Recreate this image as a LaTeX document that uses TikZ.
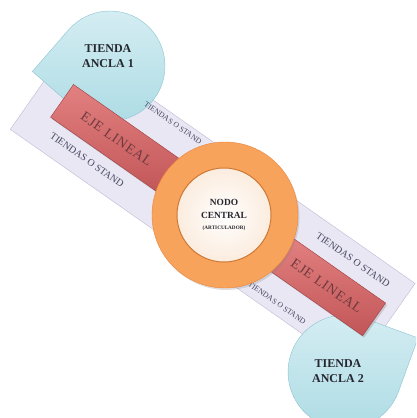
\documentclass[tikz,border=0pt]{standalone}
\usepackage{fontspec}
\setmainfont{Liberation Serif}
\definecolor{BandFill}  {RGB}{233,231,243}
\definecolor{BandLine}  {RGB}{190,185,214}
\definecolor{AxisTop}   {RGB}{226,128,128}
\definecolor{AxisBot}   {RGB}{194,86,88}
\definecolor{AxisLine}  {RGB}{156,62,64}
\definecolor{AxisText}  {RGB}{112,58,62}
\definecolor{RingFill}  {RGB}{247,163,92}
\definecolor{RingLine}  {RGB}{234,132,58}
\definecolor{CoreFill}  {RGB}{251,236,222}
\definecolor{CoreLine}  {RGB}{205,120,52}
\definecolor{AnchorTop} {RGB}{214,238,243}
\definecolor{AnchorBot} {RGB}{172,219,228}
\definecolor{AnchorLine}{RGB}{140,196,208}
\definecolor{InkDark}   {RGB}{38,38,46}
\definecolor{InkStand}  {RGB}{72,72,98}
\usetikzlibrary{calc,shadows}

\begin{document}
\begin{tikzpicture}[x=1pt,y=-1pt,
    band/.style={draw=BandLine,fill=BandFill,rotate=-35,
      minimum width=420pt,minimum height=106pt,inner sep=0pt},
    axisbar/.style={draw=AxisLine,top color=AxisTop,bottom color=AxisBot,
      rotate=-35,minimum height=40pt,inner sep=0pt,text=AxisText,
      drop shadow={opacity=0.3,shadow xshift=1.5pt,shadow yshift=-2pt},
      font=\fontsize{14}{14}\selectfont\addfontfeature{LetterSpace=6}},
    anchorshop/.style={draw=AnchorLine,top color=AnchorTop,bottom color=AnchorBot},
    anchortxt/.style={font=\bfseries\fontsize{12}{15}\selectfont,
      text=InkDark,align=center},
    standlbl/.style={rotate=-35,text=InkStand,inner sep=0pt}]
  \useasboundingbox (0,0) rectangle (416,418);
  \clip (0,0) rectangle (416,418);
  \node[band] (band) at (212.7,206.4) {};
  \coordinate (a1) at (110,66);
  \coordinate (a2) at (345,372);
  \path[anchorshop] ($(a1)+(176:77.8)$) -- ($(a1)+(221:55)$)
    arc[start angle=221,end angle=491,radius=55] -- cycle;
  \path[anchorshop] ($(a2)+(-25:80.6)$) -- ($(a2)+(20:57)$)
    arc[start angle=20,end angle=290,radius=57] -- cycle;
  \node[axisbar,minimum width=133pt] (eje1) at (116.5,139) {EJE LINEAL};
  \node[axisbar,minimum width=116pt] (eje2) at (326.6,286.1) {EJE LINEAL};
  \foreach \px/\py/\fs/\nm in {173/123/7.8/stand1, 87/160/10/stand2,
      353/260/10/stand3, 277/303/7.8/stand4}
    \node[standlbl,font=\fontsize{\fs}{\fs}\selectfont] (\nm) at (\px,\py)
      {TIENDAS O STAND};
  \node[circle,draw=RingLine,fill=RingFill,minimum size=146pt,inner sep=0pt,
        drop shadow={opacity=0.25,shadow xshift=1.5pt,shadow yshift=-2pt}]
    (ring) at (225,215) {};
  \node[circle,draw=CoreLine,line width=1pt,inner color=white,outer color=CoreFill,
        minimum size=94pt,inner sep=0pt,align=center,text=InkDark,
        font=\bfseries\fontsize{9.4}{13}\selectfont]
    (nodo) at (224,215)
    {NODO\\CENTRAL\\[-2pt]{\fontsize{5.2}{6}\selectfont (ARTICULADOR)}};
  \node[anchortxt] (ancla1) at (108,56) {TIENDA\\ANCLA 1};
  \node[anchortxt] (ancla2) at (338,371) {TIENDA\\ANCLA 2};
\end{tikzpicture}
\end{document}
